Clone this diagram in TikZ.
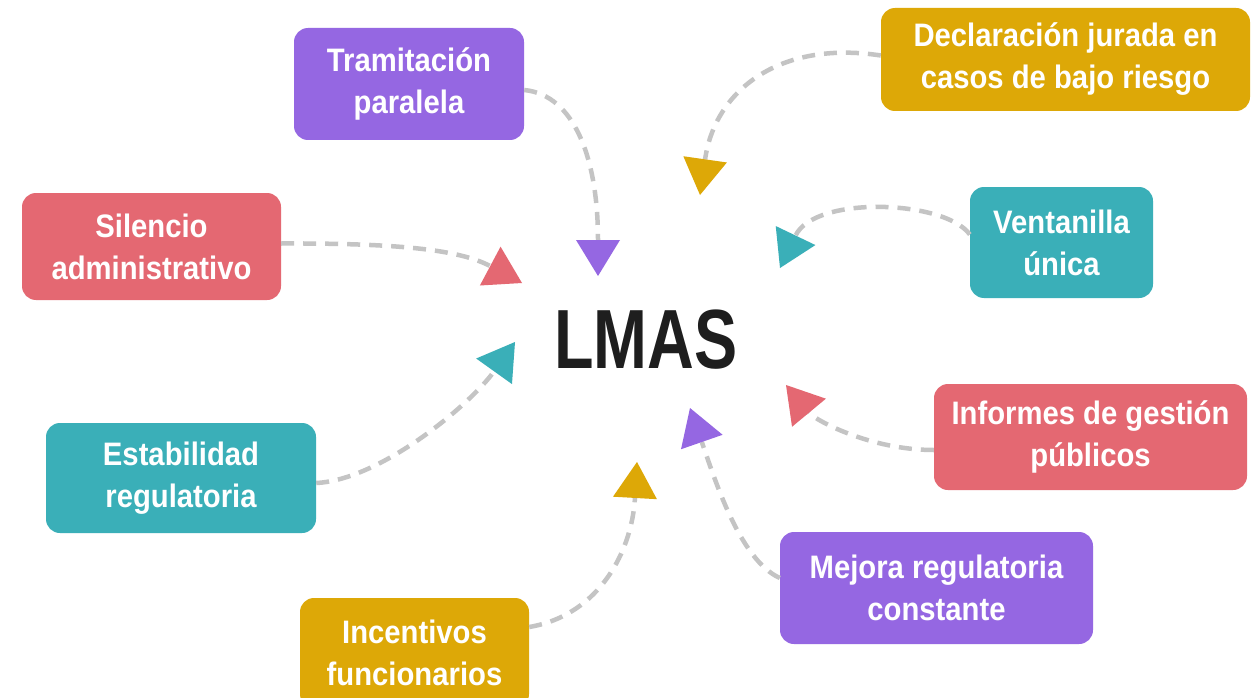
\documentclass[tikz,border=0pt]{standalone}
\usepackage{fontspec}
\usetikzlibrary{arrows.meta,calc}
\newfontfamily\boxfont[FakeStretch=0.9]{Liberation Sans}
\newfontfamily\bigfont[FakeStretch=0.77]{Liberation Sans}
\definecolor{cpurple}{HTML}{9567E2}
\definecolor{cyellow}{HTML}{DDA807}
\definecolor{cred}{HTML}{E46872}
\definecolor{cteal}{HTML}{3AAFB8}
\definecolor{cgray}{HTML}{C4C4C4}
\definecolor{cdark}{HTML}{1E1E1E}
\tikzset{
  box/.style={rectangle, rounded corners=14pt, draw=none, fill=#1, text=white,
    align=center, inner sep=0pt,
    font=\boxfont\bfseries\fontsize{32.5}{42}\selectfont},
  link/.style={draw=cgray, line width=4.5pt, dash pattern=on 13pt off 9pt,
    -{Triangle[length=36pt,width=44pt,line width=0pt,color=#1]}},
}
\begin{document}
\begin{tikzpicture}[x=1pt,y=-1pt]
\useasboundingbox (0,0) rectangle (1258,698);
\path[clip] (0,0) rectangle (1258,698);
\fill[white] (0,0) rectangle (1258,698);

\node[font=\bigfont\bfseries\fontsize{84}{84}\selectfont, text=cdark, inner sep=0pt] (L) at (646,340) {LMAS};

\node[box=cpurple, minimum width=230pt, minimum height=112pt] (T) at (409,84) {Tramitación\\paralela};
\node[box=cyellow, minimum width=369pt, minimum height=103pt] (D) at (1065.5,59.5) {Declaración jurada en\\casos de bajo riesgo};
\node[box=cred, minimum width=259pt, minimum height=107pt] (S) at (151.5,246.5) {Silencio\\administrativo};
\node[box=cteal, minimum width=183pt, minimum height=111pt] (V) at (1061.5,242.5) {Ventanilla\\única};
\node[box=cteal, minimum width=270pt, minimum height=110pt] (E) at (181,478) {Estabilidad\\regulatoria};
\node[box=cred, minimum width=313pt, minimum height=106pt] (I) at (1090.5,437) {Informes de gestión\\públicos};
\node[box=cpurple, minimum width=313pt, minimum height=112pt] (M) at (936.5,588) {Mejora regulatoria\\constante};
\node[box=cyellow, minimum width=229pt, minimum height=110pt] (N) at (414.5,653) {Incentivos\\funcionarios};

\coordinate (eT) at (598,276);
\coordinate (eD) at (700,195);
\coordinate (eS) at (522,283);
\coordinate (eV) at (780,268);
\coordinate (eE) at (515,342);
\coordinate (eI) at (786,385);
\coordinate (eM) at (690,408);
\coordinate (eN) at (637,462);

\draw[link=cpurple] ($(T.east)+(0,6)$) .. controls (575,95) and (598,160) .. (eT);
\draw[link=cyellow] ($(D.west)+(0,-4)$) .. controls (780,40) and (715,90) .. (eD);
\draw[link=cred] ($(S.east)+(0,-3)$) .. controls (400,243) and (460,250) .. (eS);
\draw[link=cteal] ($(V.west)+(0,-8)$) .. controls (945,200) and (815,195) .. (eV);
\draw[link=cteal] ($(E.east)+(0,5)$) .. controls (380,480) and (470,405) .. (eE);
\draw[link=cred] ($(I.west)+(0,13)$) .. controls (870,450) and (815,420) .. (eI);
\draw[link=cpurple] ($(M.west)+(0,-10)$) .. controls (740,560) and (715,480) .. (eM);
\draw[link=cyellow] ($(N.east)+(0,-26)$) .. controls (600,615) and (632,550) .. (eN);
\end{tikzpicture}
\end{document}
